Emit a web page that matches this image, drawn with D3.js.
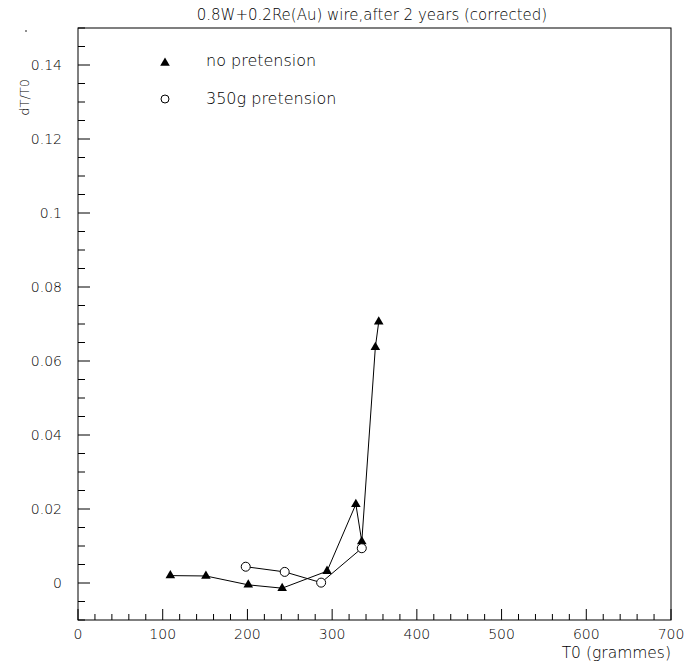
<!DOCTYPE html>
<html>
<head>
<meta charset="utf-8">
<script src="https://cdn.jsdelivr.net/npm/d3@7"></script>
<style>
  body { margin: 0; background: #fff; }
  text { font-family: "DejaVu Sans", sans-serif; fill: #000; }
  .light { font-weight: 200; }
</style>
</head>
<body>
<div id="chart"></div>
<script>
// no pretension (triangles)
const noPreT0 = [109, 151, 201, 241, 294, 328, 335, 351, 355];
const noPreDT = [0.0020, 0.0019, -0.0005, -0.0014, 0.0032, 0.0213, 0.0112, 0.0637, 0.0706];
// 350g pretension (circles)
const preT0 = [198, 244, 287, 335];
const preDT = [0.0044, 0.0030, 0.0001, 0.0094];

const xTicks = [0, 100, 200, 300, 400, 500, 600, 700];
const yTicks = [0, 0.02, 0.04, 0.06, 0.08, 0.1, 0.12, 0.14];
const yTickLabels = ["0", "0.02", "0.04", "0.06", "0.08", "0.1", "0.12", "0.14"];

const W = 689, H = 671;
const margin = {top: 28, right: 18, bottom: 51, left: 78};

const svg = d3.select('#chart').append('svg')
    .attr('width', W)
    .attr('height', H);

const x = d3.scaleLinear().domain([0, 700]).range([margin.left, W - margin.right]);
const y = d3.scaleLinear().domain([-0.01, 0.15]).range([H - margin.bottom, margin.top]);

// frame
svg.append("rect")
    .attr("x", x(0)).attr("y", y(0.15))
    .attr("width", x(700) - x(0)).attr("height", y(-0.01) - y(0.15))
    .attr("fill", "none").attr("stroke", "#000").attr("stroke-width", 1);

// x ticks (major 100, minor 20)
const xMinor = d3.range(0, 701, 20);
svg.append("g").selectAll("line")
    .data(xMinor)
    .join("line")
    .attr("x1", d => x(d)).attr("x2", d => x(d))
    .attr("y1", y(-0.01))
    .attr("y2", d => y(-0.01) - (d % 100 === 0 ? 11 : 6))
    .attr("stroke", "#000");

svg.append("g").selectAll("text")
    .data(xTicks)
    .join("text")
    .attr("class", "light")
    .attr("x", d => x(d))
    .attr("y", y(-0.01) + 19)
    .attr("text-anchor", "middle")
    .style("font-size", "14px")
    .text(d => d);

// y ticks (major 0.02, minor 0.005)
const yMinor = d3.range(-2, 31).map(i => i * 0.005);
svg.append("g").selectAll("line")
    .data(yMinor)
    .join("line")
    .attr("x1", x(0))
    .attr("x2", (d, i) => x(0) + ((i - 2) % 4 === 0 ? 12 : 7))
    .attr("y1", d => y(d)).attr("y2", d => y(d))
    .attr("stroke", "#000");

svg.append("g").selectAll("text")
    .data(yTicks)
    .join("text")
    .attr("class", "light")
    .attr("x", x(0) - 16)
    .attr("y", d => y(d))
    .attr("dy", "0.35em")
    .attr("text-anchor", "end")
    .style("font-size", "14px")
    .text((d, i) => yTickLabels[i]);

// titles
svg.append("text")
    .attr("class", "light")
    .attr("x", 372).attr("y", 20)
    .attr("text-anchor", "middle")
    .style("font-size", "15px")
    .text("0.8W+0.2Re(Au) wire,after 2 years (corrected)");

svg.append("text")
    .attr("class", "light")
    .attr("x", x(700)).attr("y", 658)
    .attr("text-anchor", "end")
    .style("font-size", "15.5px")
    .text("T0 (grammes)");

svg.append("text")
    .attr("class", "light")
    .attr("transform", "translate(29,79) rotate(-90)")
    .attr("text-anchor", "end")
    .style("font-size", "13px")
    .text("dT/T0");

svg.append("circle").attr("cx", 26).attr("cy", 31).attr("r", 0.8).attr("fill", "#000");

// series
const line = d3.line().x(d => x(d[0])).y(d => y(d[1]));
const noPre = noPreT0.map((t, i) => [t, noPreDT[i]]);
const pre = preT0.map((t, i) => [t, preDT[i]]);

const tri = d3.symbol().type(d3.symbolTriangle).size(40);

svg.append("path").datum(noPre)
    .attr("d", line).attr("fill", "none").attr("stroke", "#000").attr("stroke-width", 1);
svg.append("path").datum(pre)
    .attr("d", line).attr("fill", "none").attr("stroke", "#000").attr("stroke-width", 1);

svg.append("g").selectAll("path")
    .data(noPre)
    .join("path")
    .attr("transform", d => `translate(${x(d[0])},${y(d[1])})`)
    .attr("d", tri)
    .attr("fill", "#000");

svg.append("g").selectAll("circle")
    .data(pre)
    .join("circle")
    .attr("cx", d => x(d[0])).attr("cy", d => y(d[1]))
    .attr("r", 4.5)
    .attr("fill", "#fff").attr("stroke", "#000").attr("stroke-width", 1);

// legend
svg.append("path")
    .attr("transform", "translate(165,63)")
    .attr("d", tri).attr("fill", "#000");
svg.append("text")
    .attr("class", "light")
    .attr("x", 206).attr("y", 66)
    .style("font-size", "16px")
    .text("no pretension");

svg.append("circle")
    .attr("cx", 165).attr("cy", 99).attr("r", 4)
    .attr("fill", "#fff").attr("stroke", "#000");
svg.append("text")
    .attr("class", "light")
    .attr("x", 206).attr("y", 104)
    .style("font-size", "16px")
    .text("350g pretension");
</script>
</body>
</html>
